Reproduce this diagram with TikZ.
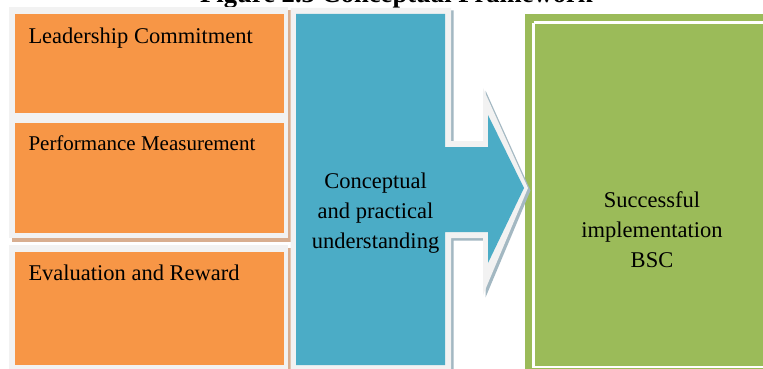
\documentclass[tikz,border=0pt]{standalone}
\usepackage{fontspec}
\setmainfont{Liberation Serif}
\definecolor{boxorange}{HTML}{F79646}
\definecolor{boxblue}{HTML}{4BACC6}
\definecolor{boxgreen}{HTML}{9BBB59}
\definecolor{framegray}{HTML}{F2F2F2}
\definecolor{tanshadow}{HTML}{D8AE90}
\definecolor{blueshadow}{HTML}{A3B8C2}
\tikzset{
  boxlabel/.style={anchor=base west, inner sep=0pt, font=\fontsize{22.5}{27}\selectfont},
  centerlabel/.style={anchor=center, inner sep=0pt, align=center, font=\fontsize{22.5}{30}\selectfont},
}
\begin{document}
\begin{tikzpicture}[x=1pt, y=-1pt]
\clip (0,0) rectangle (763,369);
\fill[white] (0,0) rectangle (763,369);
% title (cut off at top, as in the reference)
\node[anchor=base, inner sep=0pt, font=\fontsize{26.6}{30}\selectfont\bfseries] (title) at (396.5,2.5) {Figure 2.3 Conceptual Framework};
% left column: boxes 1 and 2
\fill[tanshadow] (12,10.5) rectangle (291,242);
\fill[framegray] (9,7.5) rectangle (288,238);
\fill[boxorange] (14.5,14) rectangle (284,112.5);
\fill[boxorange] (14.5,122.5) rectangle (284,233);
% box 3
\fill[tanshadow] (12,248) rectangle (291,375);
\fill[framegray] (9,245) rectangle (288,375);
\fill[boxorange] (14.5,252) rectangle (284,365);
\node[boxlabel] (lead) at (28.3,43.3) {Leadership Commitment};
\node[boxlabel, font=\fontsize{21}{25}\selectfont] (perf) at (28.3,150) {Performance Measurement};
\node[boxlabel] (eval) at (28.3,280.7) {Evaluation and Reward};
% green box
\fill[boxgreen] (525,14) rectangle (775,380);
\draw[white, line width=2.5pt] (533.5,22.7) -- (775,22.7);
\draw[white, line width=2.5pt] (533.5,22.7) -- (533.5,367.2) -- (775,367.2);
\node[centerlabel] (succ) at (652,229.3) {Successful\\implementation\\BSC};
% blue arrow
\fill[blueshadow] (293,10.5) -- (453.5,10.5) -- (453.5,143.5) -- (485.5,143.5) -- (485.5,90.5) -- (530.5,190.5) -- (485.5,297.5) -- (485.5,240.5) -- (453.5,240.5) -- (453.5,380.5) -- (293,380.5) -- cycle;
\fill[framegray] (290.5,8) -- (451,8) -- (451,141) -- (483,141) -- (483,88) -- (528,188) -- (483,295) -- (483,238) -- (451,238) -- (451,378) -- (290.5,378) -- cycle;
\fill[boxblue] (296,14) -- (445,14) -- (445,147) -- (488,147) -- (488,115) -- (524,188) -- (488,263) -- (488,232) -- (445,232) -- (445,365) -- (296,365) -- cycle;
\node[centerlabel] (conc) at (375.5,213) {Conceptual\\and practical\\understanding};
\end{tikzpicture}
\end{document}
